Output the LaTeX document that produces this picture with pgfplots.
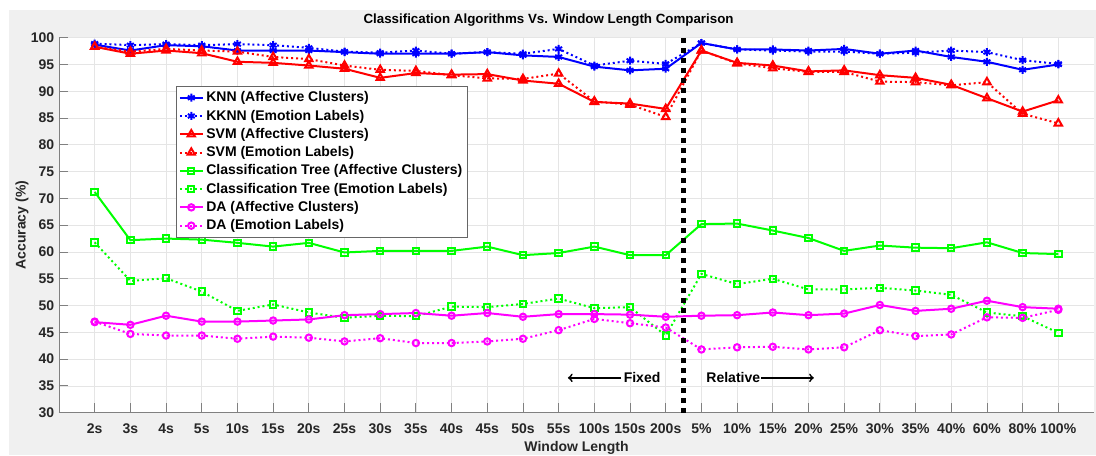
\documentclass[border=0pt]{standalone}
\usepackage{pgfplots}
\usepackage{pgfplotstable}
\pgfplotsset{compat=1.18}
\usepackage{fontspec}
\setmainfont{Liberation Sans}
\definecolor{figbg}{HTML}{F0F0F0}
\definecolor{axgray}{HTML}{808080}
\definecolor{txtgray}{HTML}{262626}
\definecolor{mag}{RGB}{255,0,255}
\definecolor{grn}{RGB}{0,255,0}
\definecolor{blu}{RGB}{0,0,255}
\definecolor{rd}{RGB}{255,0,0}

\pgfplotstableread{
x knn kknn svma svme cta cte daa dae
0  98.7 98.9 98.3 98.3 71.2 61.8 46.9 47.0
1  97.6 98.6 97.0 97.4 62.2 54.6 46.4 44.7
2  98.6 98.8 97.6 97.9 62.5 55.1 48.1 44.4
3  98.4 98.6 97.1 97.6 62.3 52.6 47.0 44.4
4  97.6 98.8 95.5 97.4 61.7 49.0 47.0 43.8
5  97.6 98.6 95.3 96.4 61.0 50.2 47.2 44.2
6  97.6 98.1 94.8 96.0 61.7 48.7 47.4 44.0
7  97.3 97.4 94.2 94.8 59.9 47.7 48.2 43.3
8  97.0 97.2 92.5 94.0 60.2 48.1 48.4 43.9
9  97.0 97.6 93.4 93.8 60.2 48.0 48.6 43.0
10 97.0 97.0 93.1 93.0 60.2 49.8 48.1 43.0
11 97.3 97.3 93.2 92.4 61.0 49.7 48.6 43.3
12 96.7 97.0 92.0 92.3 59.4 50.3 47.9 43.8
13 96.4 97.9 91.4 93.3 59.8 51.3 48.4 45.4
14 94.6 94.8 88.0 88.1 61.0 49.5 48.4 47.5
15 93.9 95.7 87.7 87.5 59.4 49.7 48.3 46.7
16 94.2 95.1 86.7 85.2 59.4 44.4 47.9 45.9
17 99.0 99.0 97.6 97.6 65.2 55.9 48.1 41.8
18 97.8 97.8 95.3 95.2 65.3 54.0 48.2 42.2
19 97.8 97.6 94.8 94.3 64.0 55.0 48.7 42.3
20 97.6 97.4 93.7 93.6 62.6 53.0 48.2 41.8
21 97.9 97.4 93.9 93.6 60.2 53.0 48.5 42.2
22 97.0 97.0 93.0 91.8 61.2 53.3 50.1 45.4
23 97.6 97.2 92.5 91.7 60.8 52.8 49.0 44.3
24 96.4 97.6 91.2 91.1 60.7 52.0 49.4 44.6
25 95.5 97.3 88.7 91.7 61.8 48.7 50.9 47.8
26 94.0 95.8 86.2 85.8 59.8 48.0 49.7 47.7
27 95.0 95.1 88.3 84.0 59.6 44.9 49.4 49.2
}\datatable

\begin{document}
\begin{tikzpicture}
\fill[white] (-44.25pt,-31.75pt) rectangle (777.75pt,309.5pt);
\fill[figbg] (-37.5pt,-31.75pt) rectangle (777.75pt,302pt);
\begin{axis}[
  at={(0,0)}, anchor=south west,
  scale only axis, width=776.25pt, height=281.25pt,
  xmin=-1, xmax=28, ymin=30, ymax=100,
  axis background/.style={fill=white},
  axis lines=left, axis line style={-, draw=axgray, line width=0.6pt},
  xtick={0,...,27},
  xticklabels={2s,3s,4s,5s,10s,15s,20s,25s,30s,35s,40s,45s,50s,55s,100s,150s,200s,5\%,10\%,15\%,20\%,25\%,30\%,35\%,40\%,60\%,80\%,100\%},
  ytick={30,35,...,100},
  tick align=inside, major tick length=7pt,
  tick style={axgray, line width=0.6pt},
  grid=major, major grid style={black!10, line width=0.5pt},
  ticklabel style={font=\fontsize{10.5}{12}\selectfont\bfseries, text=txtgray},
  xticklabel style={yshift=-4.5pt},
  /pgf/number format/assume math mode=true,
  xlabel={Window Length},
  xlabel style={font=\fontsize{10.5}{12}\selectfont\bfseries, text=txtgray, at={(axis description cs:0.5,0)}, anchor=center, yshift=-26.5pt},
  ylabel={Accuracy (\%)},
  ylabel style={font=\fontsize{10.5}{12}\selectfont\bfseries, text=txtgray, at={(axis description cs:-0.0357,0.5)}, anchor=center, rotate=0},
  title={Classification Algorithms Vs. Window Length Comparison},
  title style={font=\fontsize{10}{12}\selectfont\bfseries, at={(axis description cs:0.473,1)}, anchor=center, yshift=7.3pt},
  legend style={at={(axis description cs:0.113,0.871)}, anchor=north west, draw=black!60, fill=white, font=\fontsize{10.5}{12}\selectfont\bfseries, inner sep=2pt, row sep=0.6pt},
  legend cell align=left,
  every axis plot/.append style={line width=1.5pt},
]
\addplot[blu, mark=asterisk, mark size=3pt] table[x=x,y=knn]{\datatable};
\addlegendentry{KNN (Affective Clusters)}
\addplot[blu, dash pattern=on 1.5pt off 2.2pt, mark=asterisk, mark size=3pt, mark options={solid}] table[x=x,y=kknn]{\datatable};
\addlegendentry{KKNN (Emotion Labels)}
\addplot[rd, mark=triangle, mark size=3.2pt] table[x=x,y=svma]{\datatable};
\addlegendentry{SVM (Affective Clusters)}
\addplot[rd, dash pattern=on 1.5pt off 2.2pt, mark=triangle, mark size=3.2pt, mark options={solid}] table[x=x,y=svme]{\datatable};
\addlegendentry{SVM (Emotion Labels)}
\addplot[grn, mark=square, mark size=2.4pt] table[x=x,y=cta]{\datatable};
\addlegendentry{Classification Tree (Affective Clusters)}
\addplot[grn, dash pattern=on 1.5pt off 2.2pt, mark=square, mark size=2.4pt, mark options={solid}] table[x=x,y=cte]{\datatable};
\addlegendentry{Classification Tree (Emotion Labels)}
\addplot[mag, mark=o, mark size=2.4pt] table[x=x,y=daa]{\datatable};
\addlegendentry{DA (Affective Clusters)}
\addplot[mag, dash pattern=on 1.5pt off 2.2pt, mark=o, mark size=2.4pt, mark options={solid}] table[x=x,y=dae]{\datatable};
\addlegendentry{DA (Emotion Labels)}
\addplot[black, line width=3.4pt, dash pattern=on 3.4pt off 4.1pt, forget plot] coordinates {(16.5,30) (16.5,100)};
\draw[->, line width=1.3pt, black] (axis cs:14.75,36.5) -- (axis cs:13.26,36.5);
\node[anchor=west, inner sep=1pt, font=\fontsize{10.5}{12}\selectfont\bfseries] at (axis cs:14.78,36.5) {Fixed};
\node[anchor=east, inner sep=1pt, font=\fontsize{10.5}{12}\selectfont\bfseries] at (axis cs:18.69,36.5) {Relative};
\draw[->, line width=1.3pt, black] (axis cs:18.67,36.5) -- (axis cs:20.15,36.5);
\end{axis}
\pgfresetboundingbox
\useasboundingbox (-44.25pt,-31.75pt) rectangle (777.75pt,309.5pt);
\end{tikzpicture}
\end{document}
